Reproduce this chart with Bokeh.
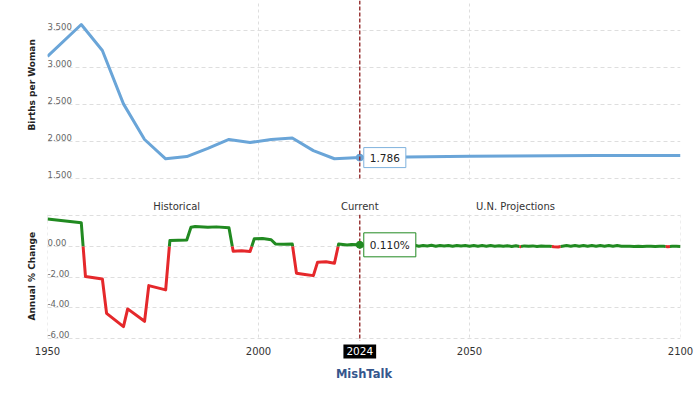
from bokeh.plotting import figure
from bokeh.models import Span, Label, FixedTicker, Range1d, ColumnDataSource, LinearAxis, Title
from bokeh.layouts import column
from bokeh.embed import file_html
from bokeh.resources import INLINE
from bokeh.core.properties import value

# ---- data ----
tfr_years = [1950, 1958, 1963, 1968, 1973, 1978, 1983, 1988, 1993, 1998, 2003, 2008,
             2013, 2018, 2024, 2030, 2040, 2050, 2060, 2070, 2080, 2090, 2100]
tfr_values = [3.15, 3.58, 3.23, 2.51, 2.03, 1.77, 1.80, 1.91, 2.03, 1.99, 2.03, 2.05,
              1.88, 1.77, 1.786, 1.792, 1.798, 1.803, 1.808, 1.810, 1.813, 1.814, 1.815]

hist_chg_years = [1950, 1958, 1959, 1963, 1964, 1968, 1969, 1973, 1974, 1978, 1979, 1983,
                  1984, 1985, 1988, 1990, 1993, 1994, 1996, 1998, 1999, 2001, 2003, 2004,
                  2006, 2008, 2009, 2011, 2013, 2014, 2016, 2018, 2019, 2021, 2022, 2024]
hist_chg_values = [1.80, 1.55, -1.96, -2.12, -4.36, -5.23, -4.07, -4.88, -2.55, -2.83, 0.39, 0.42,
                   1.26, 1.30, 1.25, 1.28, 1.22, -0.31, -0.28, -0.33, 0.50, 0.52, 0.44, 0.17,
                   0.15, 0.17, -1.74, -1.82, -1.90, -1.02, -1.00, -1.09, 0.17, 0.10, 0.13, 0.11]

proj_chg_years = list(range(2025, 2101))
proj_chg_values = [0.08, 0.04, 0.09, 0.03, 0.08, 0.03, 0.08, 0.02, 0.08, 0.03,
                   0.07, 0.03, 0.08, 0.02, 0.07, 0.03, 0.08, 0.02, 0.07, 0.03,
                   0.07, 0.02, 0.07, 0.03, 0.06, 0.02, 0.07, 0.02, 0.06, 0.02,
                   0.06, 0.01, 0.05, 0.01, 0.05, 0.00, 0.05, -0.01, 0.04, 0.01,
                   0.04, 0.00, 0.03, 0.01, 0.02, -0.02, -0.03, 0.02, 0.06, 0.02,
                   0.07, 0.02, 0.07, 0.02, 0.07, 0.02, 0.07, 0.02, 0.07, 0.02,
                   0.06, 0.02, 0.01, 0.01, 0.00, 0.01, 0.00, 0.01, 0.01, 0.00,
                   0.01, 0.01, -0.01, 0.01, 0.01, 0.00]

x_ticks = [1950, 2000, 2050, 2100]
tfr_ticks = [1.5, 2.0, 2.5, 3.0, 3.5]
tfr_tick_labels = ["1.500", "2.000", "2.500", "3.000", "3.500"]
chg_grid = [2, 0, -2, -4, -6]
chg_ticks = [0, -2, -4, -6]
chg_tick_labels = ["0.00", "-2.00", "-4.00", "-6.00"]
current_year = 2024
current_tfr = 1.786
current_chg = 0.110
period_labels = ["Historical", "Current", "U.N. Projections"]
period_label_x = [1980.6, 2024, 2060.9]

# ---- styles ----
FONT = "DejaVu Sans"
BLUE = "#6aa5d8"
GREEN = "#218a21"
RED = "#e5282b"
GRID = "#dedede"
VLINE = "#8b1c1c"
W = 700
LB = 47
RB = 20
CHG_TOP = 2.087
CHG_BOTTOM = -6.0


def style(p, title, offset):
    p.outline_line_color = None
    p.background_fill_color = "white"
    p.ygrid.grid_line_color = GRID
    p.ygrid.grid_line_dash = "4 3"
    p.yaxis.visible = False
    p.add_layout(Title(text=title, align="left", offset=offset, standoff=21,
                       text_font=FONT, text_font_style="bold", text_font_size="9px",
                       text_color="#222222"), "left")


# ---- top chart ----
p1 = figure(width=W, height=180, x_range=Range1d(1950, 2100), y_range=Range1d(1.477, 3.904),
            output_backend="svg", toolbar_location=None,
            min_border_left=LB, min_border_right=RB, min_border_top=0, min_border_bottom=0)
style(p1, "Births per Woman", 50)
p1.xaxis.visible = False
p1.xgrid.ticker = FixedTicker(ticks=x_ticks)
p1.xgrid.grid_line_color = GRID
p1.xgrid.grid_line_dash = "3 3"
p1.ygrid.ticker = FixedTicker(ticks=tfr_ticks)

p1.text(x=[1950] * len(tfr_ticks), y=tfr_ticks, text=tfr_tick_labels, text_align="left",
        text_baseline="middle", y_offset=-4, text_font=value(FONT), text_font_size="8.5px",
        text_color="#666666")
p1.line(tfr_years, tfr_values, line_color=BLUE, line_width=3, line_join="round")
p1.add_layout(Span(location=current_year, dimension="height", line_color=VLINE,
                   line_dash="4 2", line_width=1.3))
p1.scatter([current_year], [current_tfr], size=7, color=BLUE)
p1.add_layout(Label(x=current_year, y=current_tfr, text=f"{current_tfr:.3f}", x_offset=4,
                    text_align="left", text_baseline="middle", text_font=FONT,
                    text_font_size="10.5px", text_color="#222222",
                    background_fill_color="white", border_line_color="#7fb2dd",
                    border_line_width=1, padding=6))

# ---- bottom chart ----
p2 = figure(width=W, height=206, x_range=Range1d(1950, 2100),
            y_range=Range1d(CHG_BOTTOM - 24 / 15.33, CHG_TOP),
            output_backend="svg", toolbar_location=None,
            min_border_left=LB, min_border_right=RB, min_border_top=34, min_border_bottom=24)
style(p2, "Annual % Change", 42)
p2.xgrid.visible = False
p2.ygrid.ticker = FixedTicker(ticks=chg_grid)

# vertical grid lines limited to the chart area
p2.segment(x0=x_ticks, y0=[CHG_TOP] * len(x_ticks), x1=x_ticks, y1=[CHG_BOTTOM] * len(x_ticks),
           line_color=GRID, line_dash="3 3", line_width=1)

xa = p2.xaxis[0]
xa.ticker = FixedTicker(ticks=x_ticks)
xa.axis_line_color = None
xa.major_tick_line_color = None
xa.minor_tick_line_color = None
xa.major_tick_out = 0
xa.major_label_standoff = -16
xa.major_label_text_font = FONT
xa.major_label_text_font_size = "10px"
xa.major_label_text_color = "#333333"
xa.axis_label = "MishTalk"
xa.axis_label_text_font = FONT
xa.axis_label_text_font_style = "bold"
xa.axis_label_text_font_size = "11.5px"
xa.axis_label_text_color = "#35568c"
xa.axis_label_standoff = 9

# period labels above the chart
top_ax = LinearAxis(ticker=FixedTicker(ticks=period_label_x),
                    major_label_overrides={k: v for k, v in zip(period_label_x, period_labels)})
top_ax.axis_line_color = None
top_ax.major_tick_line_color = None
top_ax.minor_tick_line_color = None
top_ax.major_tick_out = 0
top_ax.major_label_standoff = 3
top_ax.major_label_text_font = FONT
top_ax.major_label_text_font_size = "10px"
top_ax.major_label_text_color = "#333333"
p2.add_layout(top_ax, "above")

p2.text(x=[1950] * len(chg_ticks), y=chg_ticks, text=chg_tick_labels, text_align="left",
        text_baseline="middle", y_offset=-4, text_font=value(FONT), text_font_size="8.5px",
        text_color="#666666")

# split series into green (>=0) and red (<0) runs
all_x = hist_chg_years + proj_chg_years
all_y = hist_chg_values + proj_chg_values
runs_x, runs_y, runs_c = [], [], []
cx, cy, cpos = [all_x[0]], [all_y[0]], all_y[0] >= 0
for i in range(1, len(all_x)):
    x0, y0, x1, y1 = all_x[i - 1], all_y[i - 1], all_x[i], all_y[i]
    pos = y1 >= 0
    if pos == cpos:
        cx.append(x1); cy.append(y1)
    else:
        xc = x0 + (x1 - x0) * (0 - y0) / (y1 - y0)
        cx.append(xc); cy.append(0)
        runs_x.append(cx); runs_y.append(cy); runs_c.append(GREEN if cpos else RED)
        cx, cy, cpos = [xc, x1], [0, y1], pos
runs_x.append(cx); runs_y.append(cy); runs_c.append(GREEN if cpos else RED)

src = ColumnDataSource(dict(xs=runs_x, ys=runs_y, color=runs_c))
p2.multi_line(xs="xs", ys="ys", line_color="color", line_width=3, line_join="round", source=src)

# current-year marker line, limited to the chart area
p2.segment(x0=[current_year], y0=[CHG_TOP], x1=[current_year], y1=[CHG_BOTTOM - 0.15],
           line_color=VLINE, line_dash="4 2", line_width=1.3)
p2.scatter([current_year], [current_chg], size=7, color=GREEN)
p2.add_layout(Label(x=current_year, y=current_chg, text=f"{current_chg:.3f}%", x_offset=4,
                    text_align="left", text_baseline="middle", text_font=FONT,
                    text_font_size="10.5px", text_color="#222222",
                    background_fill_color="white", border_line_color=GREEN,
                    border_line_width=1, padding=6))

# current year tag on the x axis row
yr = p2.text(x=[current_year], y=[CHG_BOTTOM], text=[str(current_year)], y_offset=13,
             text_align="center", text_baseline="middle", text_font=value(FONT),
             text_font_size="10.5px", text_color="white")
g = yr.glyph
if "background_fill_color" in g.properties():
    g.background_fill_color = "black"
if "padding" in g.properties():
    g.padding = 3

layout = column(p1, p2, spacing=0)
open("out.html", "w").write(file_html(layout, INLINE))
